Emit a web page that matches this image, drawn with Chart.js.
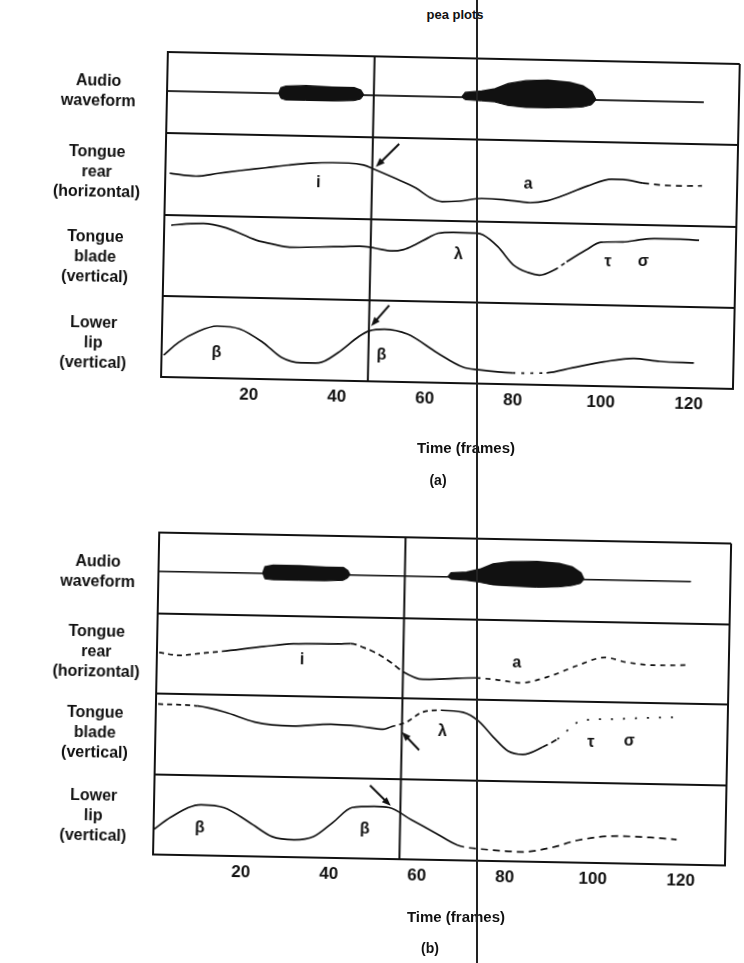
<!DOCTYPE html>
<html>
<head>
<meta charset="utf-8">
<title>pea plots</title>
<script src="https://cdn.jsdelivr.net/npm/chart.js@4.4.1/dist/chart.umd.min.js"></script>
<style>
  html, body { margin: 0; padding: 0; background: #fff; }
  body { width: 744px; height: 963px; position: relative; overflow: hidden;
         font-family: 'Liberation Sans', Arial, sans-serif; color: #111; }
  canvas { position: absolute; }
  #chartA { left: 0; top: 0; transform-origin: 450px 383px; transform: rotate(1.2deg); }
  #chartB { left: -8px; top: 480px; transform-origin: 448px 380px; transform: rotate(1.1deg); }
  .txt { position: absolute; font-weight: bold; white-space: nowrap; transform: translate(-50%, -50%); }
  #fold { position: absolute; left: 476px; top: 0; width: 1.5px; height: 963px; background: #222; }
</style>
</head>
<body>
<div class="txt" style="left:455px; top:14px; font-size:13px">pea plots</div>
<canvas id="chartA" width="744" height="490"></canvas>
<canvas id="chartB" width="744" height="490"></canvas>
<div class="txt" style="left:466px; top:447px; font-size:15px">Time (frames)</div>
<div class="txt" style="left:438px; top:480px; font-size:14px">(a)</div>
<div class="txt" style="left:456px; top:916px; font-size:15px">Time (frames)</div>
<div class="txt" style="left:430px; top:948px; font-size:14px">(b)</div>
<div id="fold"></div>

<script>
// time axis (frames)
const xTickLabels = [20, 40, 60, 80, 100, 120];
const frameMax = 130;

// tracks from top to bottom
const trackLabels = [
  ['Audio', 'waveform'],
  ['Tongue', 'rear', '(horizontal)'],
  ['Tongue', 'blade', '(vertical)'],
  ['Lower', 'lip', '(vertical)']
];

// ---- panel (a) ----
const audioBaseA = 52;
const audioEndA = 122;
// [frame, above baseline, below baseline]
const burst1A = [[25.4, 0, 0], [25.9, 7, 6], [27, 9, 8], [31.5, 10, 8], [37.5, 9, 8], [42.5, 9, 7], [44, 6, 5], [44.7, 0, 0]];
const burst2A = [[67, 0, 0], [67.8, 6, 3], [71.5, 8, 4], [74.5, 11, 5], [77.5, 18, 9], [81.5, 22, 11], [86.5, 23, 11], [91.5, 21, 10], [94.5, 17, 9], [96.5, 10, 6], [97.5, 0, 0]];
// [frame, position within track]
const rearA = [[1, 51], [7, 48], [12, 52], [17, 56], [22.7, 60], [28, 64], [33, 67], [38, 68], [41.6, 68], [45, 66], [47.5, 61], [52, 51], [57, 39], [60.5, 27], [63, 23], [67, 24], [72, 28], [77, 27], [83, 24], [87, 27], [91.6, 36], [96, 46], [101.5, 55], [104, 55], [108.6, 51], [113, 49], [117, 48.5], [122, 49]];
const bladeA = [[1.6, 87], [5, 89], [8.9, 90], [14.1, 85], [20.9, 71], [25, 66], [28.6, 63], [35.5, 64], [40, 65], [44.5, 66], [48, 64], [51.8, 61], [54.5, 63], [57, 69], [60, 78], [62.3, 84], [65.7, 85.5], [70.9, 85], [72.5, 83], [75.9, 69], [79.5, 47], [82.9, 38], [85.5, 35], [88.9, 42], [91.6, 52], [95.9, 67], [99.3, 77], [104.3, 78], [108, 81], [111.4, 83], [117.3, 83], [121.6, 82]];
const lipA = [[0.5, 27], [3.8, 43], [8.2, 57], [12.5, 64], [17.7, 61], [23, 45], [27.3, 27], [31.7, 21], [35.8, 21.5], [40.1, 34.5], [44.8, 55], [47.1, 62], [50.5, 64.5], [55.8, 59], [62.6, 37], [68.5, 20], [72.1, 17], [79.8, 14], [87.6, 15], [93.5, 22], [100.5, 30], [107.3, 35], [113.3, 32], [121, 31]];
const eventA = 47;
// [text, track, frame, position]
const lettersA = [['i', 'rear', 34.8, 43], ['a', 'rear', 82.5, 47], ['λ', 'blade', 67, 58], ['τ', 'blade', 101, 53], ['σ', 'blade', 109, 54], ['β', 'lip', 12.5, 31], ['β', 'lip', 50, 33]];
// [track, tail frame, tail pos, head frame, head pos]
const arrowsA = [['rear', 53, 93, 47.8, 64], ['lip', 51.5, 94, 47.5, 68]];

// ---- panel (b) ----
const audioBaseB = 52;
const audioEndB = 121;
const burst1B = [[23.7, 0, 0], [24.2, 8, 7], [26, 10, 8], [32, 10, 8], [38, 9, 8], [42, 9, 7], [43, 5, 4], [43.5, 0, 0]];
const burst2B = [[65.8, 0, 0], [66.5, 5, 3], [70, 6, 4], [73, 10, 6], [76, 17, 9], [80, 20, 10], [86, 21, 11], [91, 19, 10], [94, 15, 8], [96, 8, 5], [96.7, 0, 0]];
const rearB = [[0.5, 51], [5.2, 48], [10, 51], [14.8, 54], [24.3, 61], [31, 65], [41.4, 66], [44, 66.6], [47, 62], [50, 55], [53.4, 43.5], [56, 33], [60.5, 24], [65.5, 25], [72.5, 27], [77.5, 25], [82.7, 22], [88.9, 30], [95.7, 45], [101.8, 55.5], [106.8, 50], [113, 47], [120.7, 48]];
const bladeB = [[0.5, 87], [9.5, 85.5], [15.7, 78.6], [22.5, 67], [31.1, 63], [39.8, 66], [46.6, 64], [51.8, 61], [53.4, 64], [57, 70.5], [60.5, 83], [64.8, 86], [69.8, 84], [73.4, 73.5], [76.8, 54], [80.2, 37], [83.6, 33], [88, 42.5], [91.4, 53], [96.6, 76], [103.4, 79], [110, 81], [118, 83]];
const lipB = [[0, 31], [3.9, 47], [10.7, 63], [15.9, 60], [21.8, 42], [27, 25], [32, 21.6], [36.4, 26], [40.7, 44], [45, 63], [50, 65], [53.4, 64], [58.6, 49], [63.9, 34], [69.1, 19], [76, 14], [83.6, 12], [90.5, 18], [96.6, 28], [105.9, 34], [113, 33], [118.9, 31]];
const eventB = 56;
const lettersB = [['i', 'rear', 33, 45], ['a', 'rear', 81.8, 46], ['λ', 'blade', 65.2, 60], ['τ', 'blade', 99, 50], ['σ', 'blade', 107.7, 52], ['β', 'lip', 10.5, 34], ['β', 'lip', 48, 36]];
const arrowsB = [['blade', 60, 36, 56, 58], ['lip', 49, 91, 53.8, 66]];

// each track gets a 100-unit band on the shared y scale
const BAND = { audio: 300, rear: 200, blade: 100, lip: 0 };
const INK = '#111';
const FONT = 'Liberation Sans';

// broken / faint stretches of the traces
const dashA = {
  rear: [[107, 130, [6, 5]]],
  blade: [[88.5, 92.5, [4, 4]]],
  lip: [[79, 90, [3, 6]]]
};
const dashB = {
  rear: [[0, 13, [5, 4]], [44, 56, [6, 4]], [75, 130, [5, 5]]],
  blade: [[0, 9, [5, 4]], [55, 63, [5, 4]], [87, 93, [6, 4]], [93, 130, [2, 10]]],
  lip: [[69, 130, [7, 5]]]
};

function toPoints(arr, band) {
  return arr.map(([x, v]) => ({ x: x, y: v + BAND[band] }));
}

function envelope(base, end, bursts, upper) {
  const pts = [{ x: 0, y: base + BAND.audio }];
  bursts.forEach(b => b.forEach(([f, up, down]) => {
    pts.push({ x: f, y: base + BAND.audio + (upper ? up : -down) });
  }));
  pts.push({ x: end, y: base + BAND.audio });
  return pts;
}

function dashBy(ranges) {
  return ctx => {
    const mid = (ctx.p0.parsed.x + ctx.p1.parsed.x) / 2;
    const r = ranges.find(q => mid >= q[0] && mid < q[1]);
    return r ? r[2] : undefined;
  };
}

function trace(arr, band, ranges) {
  return {
    data: toPoints(arr, band),
    borderColor: INK,
    borderWidth: 1.7,
    pointRadius: 0,
    tension: 0.4,
    cubicInterpolationMode: 'monotone',
    fill: false,
    segment: { borderDash: dashBy(ranges) }
  };
}

// gesture letters and arrows, placed in data units
function marks(letters, arrows) {
  return {
    id: 'marks',
    afterDatasetsDraw(chart) {
      const { ctx, scales: { x, y } } = chart;
      ctx.save();
      ctx.fillStyle = INK;
      ctx.strokeStyle = INK;
      ctx.textAlign = 'center';
      ctx.textBaseline = 'middle';
      ctx.font = 'bold 16px "' + FONT + '"';
      letters.forEach(([t, band, f, v]) => {
        ctx.fillText(t, x.getPixelForValue(f), y.getPixelForValue(v + BAND[band]));
      });
      arrows.forEach(([band, f0, v0, f1, v1]) => {
        const x0 = x.getPixelForValue(f0), y0 = y.getPixelForValue(v0 + BAND[band]);
        const x1 = x.getPixelForValue(f1), y1 = y.getPixelForValue(v1 + BAND[band]);
        const a = Math.atan2(y1 - y0, x1 - x0);
        ctx.lineWidth = 2;
        ctx.beginPath();
        ctx.moveTo(x0, y0);
        ctx.lineTo(x1 - 6 * Math.cos(a), y1 - 6 * Math.sin(a));
        ctx.stroke();
        ctx.beginPath();
        ctx.moveTo(x1, y1);
        ctx.lineTo(x1 - 9 * Math.cos(a) + 3.5 * Math.sin(a), y1 - 9 * Math.sin(a) - 3.5 * Math.cos(a));
        ctx.lineTo(x1 - 9 * Math.cos(a) - 3.5 * Math.sin(a), y1 - 9 * Math.sin(a) + 3.5 * Math.cos(a));
        ctx.closePath();
        ctx.fill();
      });
      ctx.restore();
    }
  };
}

function makePanel(canvasId, p) {
  // band edges carry the separator lines, p.labelAt carries the track names
  const yTicks = [0, 100, 200, 300, 400, ...p.labelAt].sort((a, b) => a - b);
  return new Chart(document.getElementById(canvasId), {
    type: 'line',
    data: {
      datasets: [
        { data: envelope(p.base, p.end, p.bursts, true), borderColor: INK, borderWidth: 1.5,
          pointRadius: 0, tension: 0, fill: false },
        { data: envelope(p.base, p.end, p.bursts, false), borderColor: INK, borderWidth: 1,
          pointRadius: 0, tension: 0, fill: '-1', backgroundColor: INK },
        trace(p.rear, 'rear', p.dash.rear),
        trace(p.blade, 'blade', p.dash.blade),
        trace(p.lip, 'lip', p.dash.lip),
        { data: [{ x: p.event, y: 0 }, { x: p.event, y: 400 }], borderColor: INK, borderWidth: 2,
          pointRadius: 0, tension: 0, fill: false }
      ]
    },
    options: {
      responsive: false,
      animation: false,
      devicePixelRatio: 1,
      layout: { padding: { left: 0, right: 11, top: 58, bottom: p.padBottom } },
      plugins: { legend: { display: false }, tooltip: { enabled: false } },
      scales: {
        x: {
          type: 'linear',
          min: 0,
          max: frameMax,
          afterBuildTicks: ax => { ax.ticks = [0, ...xTickLabels, frameMax].map(v => ({ value: v })); },
          afterFit: ax => { ax.height = 40; },
          grid: { color: c => (c.tick && c.tick.value === frameMax) ? INK : 'rgba(0,0,0,0)', lineWidth: 2, drawTicks: false },
          border: { color: INK, width: 2 },
          ticks: {
            callback: v => xTickLabels.includes(v) ? String(v) : '',
            autoSkip: false, maxRotation: 0, padding: 6,
            color: INK, font: { family: FONT, size: 17, weight: 'bold' }
          }
        },
        y: {
          min: 0,
          max: 400,
          afterBuildTicks: ax => { ax.ticks = yTicks.map(v => ({ value: v })); },
          afterFit: ax => { ax.width = 161; },
          grid: { color: c => (c.tick && c.tick.value % 100 === 0) ? INK : 'rgba(0,0,0,0)', lineWidth: 2, drawTicks: false },
          border: { color: INK, width: 2 },
          ticks: {
            callback: v => p.labelAt.includes(v) ? trackLabels[p.labelAt.indexOf(v)] : '',
            autoSkip: false, crossAlign: 'center', padding: p.labelPad,
            color: INK, font: { family: FONT, size: 16, weight: 'bold', lineHeight: 1.25 }
          }
        }
      }
    },
    plugins: [marks(p.letters, p.arrows)]
  });
}

makePanel('chartA', {
  base: audioBaseA, end: audioEndA, bursts: [burst1A, burst2A],
  rear: rearA, blade: bladeA, lip: lipA, event: eventA,
  letters: lettersA, arrows: arrowsA, dash: dashA,
  padBottom: 67, labelPad: 25, labelAt: [350, 250, 146, 40]
});
makePanel('chartB', {
  base: audioBaseB, end: audioEndB, bursts: [burst1B, burst2B],
  rear: rearB, blade: bladeB, lip: lipB, event: eventB,
  letters: lettersB, arrows: arrowsB, dash: dashB,
  padBottom: 70, labelPad: 17, labelAt: [350, 250, 150, 47]
});
</script>
</body>
</html>
